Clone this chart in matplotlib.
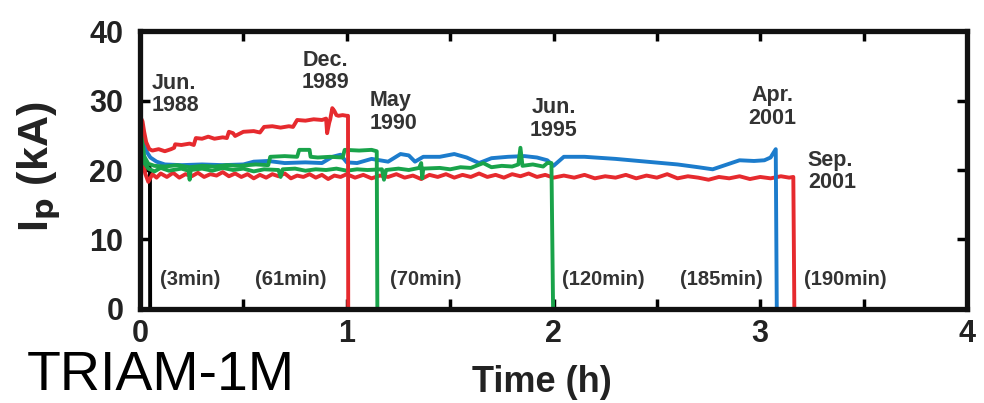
import matplotlib
matplotlib.use("Agg")
import matplotlib.pyplot as plt
from matplotlib.ticker import MultipleLocator

plt.rcParams['font.family'] = ['Liberation Sans', 'DejaVu Sans']

# Discharge traces, time in hours, plasma current in kA
t_jun1988 = [0.0, 0.003, 0.008, 0.015, 0.025, 0.035, 0.045, 0.048, 0.049]
i_jun1988 = [0.0, 26.5, 23.0, 21.0, 20.5, 20.0, 20.5, 20.0, 0.0]

t_dec1989 = [0.0, 0.004, 0.012, 0.02, 0.03, 0.045, 0.06, 0.09, 0.12, 0.15, 0.165, 0.17,
             0.2, 0.24, 0.26, 0.27, 0.3, 0.33, 0.36, 0.4, 0.42, 0.43, 0.45, 0.46, 0.5,
             0.55, 0.58, 0.6, 0.64, 0.68, 0.72, 0.74, 0.76, 0.8, 0.84, 0.88, 0.9, 0.905,
             0.915, 0.92, 0.93, 0.94, 0.95, 0.96, 0.98, 1.0, 1.006, 1.007]
i_dec1989 = [0.0, 27.5, 27.0, 25.5, 24.0, 23.0, 22.8, 23.0, 22.7, 23.0, 23.2, 23.7,
             23.6, 23.8, 23.6, 24.6, 24.5, 24.8, 24.5, 24.7, 24.6, 25.5, 25.3, 24.9, 25.5,
             25.6, 25.4, 26.2, 26.3, 26.1, 26.3, 26.2, 27.2, 27.1, 27.3, 27.2, 27.4, 25.3,
             26.8, 27.3, 28.9, 28.5, 27.9, 27.8, 27.9, 27.8, 27.8, 0.0]

t_may1990 = [0.0, 0.004, 0.01, 0.02, 0.04, 0.07, 0.12, 0.18, 0.24, 0.3, 0.36, 0.42,
             0.48, 0.56, 0.62, 0.63, 0.7, 0.76, 0.77, 0.82, 0.825, 0.86, 0.92, 0.98,
             0.99, 1.06, 1.12, 1.145, 1.148]
i_may1990 = [0.0, 26.0, 24.5, 22.0, 20.9, 20.6, 20.5, 20.7, 20.4, 20.6, 20.5, 20.7,
             20.6, 20.8, 20.7, 21.9, 22.0, 21.9, 22.9, 22.9, 21.9, 21.8, 21.9, 21.8,
             22.9, 22.8, 22.9, 22.7, 0.0]

t_jun1995 = [0.0, 0.004, 0.01, 0.02, 0.04, 0.07, 0.1, 0.14, 0.2, 0.235, 0.24, 0.245,
             0.3, 0.35, 0.4, 0.45, 0.5, 0.55, 0.6, 0.67, 0.68, 0.69, 0.75, 0.8, 0.85,
             0.9, 0.95, 1.0, 1.05, 1.1, 1.17, 1.18, 1.19, 1.25, 1.3, 1.35, 1.36, 1.365,
             1.37, 1.45, 1.5, 1.55, 1.6, 1.66, 1.7, 1.75, 1.8, 1.83, 1.84, 1.85, 1.9,
             1.95, 1.97, 1.99, 1.998]
i_jun1995 = [0.0, 25.0, 23.0, 21.0, 20.2, 19.8, 20.3, 19.9, 20.2, 19.9, 18.6, 20.0,
             20.2, 19.9, 20.3, 20.0, 20.2, 19.8, 20.1, 20.0, 19.0, 20.1, 20.2, 19.9, 20.1,
             20.0, 20.2, 19.9, 20.1, 20.0, 20.1, 18.6, 20.0, 20.2, 20.0, 20.3, 21.0, 18.8,
             20.2, 20.3, 20.1, 20.4, 20.3, 21.0, 20.4, 20.6, 20.5, 20.8, 23.2, 20.6, 20.8,
             20.5, 21.0, 21.0, 0.0]

t_apr2001 = [0.0, 0.003, 0.01, 0.02, 0.035, 0.05, 0.08, 0.12, 0.2, 0.3, 0.4, 0.5, 0.55,
             0.62, 0.7, 0.8, 0.88, 0.93, 0.97, 1.0, 1.05, 1.12, 1.2, 1.26, 1.3, 1.33,
             1.37, 1.45, 1.52, 1.58, 1.64, 1.7, 1.78, 1.86, 1.92, 1.97, 2.0, 2.05, 2.15,
             2.3, 2.45, 2.6, 2.7, 2.77, 2.84, 2.9, 2.97, 3.02, 3.05, 3.075, 3.08]
i_apr2001 = [0.0, 28.0, 26.0, 23.5, 22.5, 21.8, 21.2, 20.8, 20.7, 20.8, 20.7, 20.8, 21.2,
             21.3, 21.0, 21.1, 21.0, 21.9, 22.2, 21.1, 21.0, 21.6, 21.2, 22.3, 22.1, 21.2,
             21.9, 21.9, 22.3, 21.8, 21.0, 21.7, 21.9, 22.0, 21.8, 21.4, 20.6, 21.9, 21.9,
             21.6, 21.2, 20.8, 20.4, 20.1, 20.8, 21.4, 21.3, 21.4, 21.8, 23.0, 0.0]

t_sep2001 = [0.0, 0.003, 0.008, 0.015, 0.025, 0.04, 0.06, 0.08, 0.1, 0.13, 0.16, 0.19,
             0.22, 0.25, 0.28, 0.31, 0.34, 0.37, 0.4, 0.43, 0.46, 0.49, 0.52, 0.55, 0.58,
             0.61, 0.64, 0.67, 0.7, 0.73, 0.76, 0.79, 0.82, 0.85, 0.88, 0.91, 0.94, 0.97,
             1.0, 1.04, 1.08, 1.12, 1.16, 1.2, 1.24, 1.28, 1.32, 1.36, 1.4, 1.44, 1.48,
             1.52, 1.56, 1.6, 1.64, 1.68, 1.72, 1.76, 1.8, 1.84, 1.88, 1.92, 1.96, 2.0,
             2.05, 2.1, 2.15, 2.2, 2.25, 2.3, 2.35, 2.4, 2.45, 2.5, 2.55, 2.6, 2.65, 2.7,
             2.75, 2.8, 2.85, 2.9, 2.95, 3.0, 3.05, 3.1, 3.14, 3.16, 3.165]
i_sep2001 = [0.0, 26.0, 24.5, 21.5, 19.5, 18.3, 19.4, 18.9, 19.5, 19.0, 19.6, 18.9,
             19.4, 19.1, 19.6, 19.0, 19.4, 19.2, 19.7, 19.1, 19.5, 19.0, 19.4, 18.8, 19.3,
             18.9, 19.4, 19.1, 19.5, 18.8, 19.2, 19.0, 19.4, 18.9, 19.3, 18.7, 19.2, 19.0,
             19.4, 18.9, 19.3, 18.8, 19.2, 19.0, 19.4, 18.9, 19.2, 18.7, 19.3, 19.0, 19.4,
             18.9, 19.3, 19.0, 19.5, 19.0, 19.3, 18.9, 19.4, 19.1, 19.5, 19.0, 19.3, 18.9,
             19.2, 18.9, 19.3, 18.8, 19.1, 18.9, 19.3, 18.8, 19.2, 18.9, 19.4, 18.8, 19.1,
             18.9, 18.6, 19.0, 18.8, 19.1, 18.7, 19.0, 18.8, 19.1, 18.9, 19.0, 0.0]

# date labels: text, x, y(top), alignment
date_labels = [("Jun.\n1988", 0.058, 34.0, "left"),
               ("Dec.\n1989", 0.895, 37.3, "center"),
               ("May\n1990", 1.11, 31.5, "left"),
               ("Jun.\n1995", 2.0, 30.5, "center"),
               ("Apr.\n2001", 3.06, 32.2, "center"),
               ("Sep.\n2001", 3.23, 22.9, "left")]
dur_labels = [("(3min)", 0.097), ("(61min)", 0.556), ("(70min)", 1.21),
              ("(120min)", 2.04), ("(185min)", 2.61), ("(190min)", 3.21)]

red = "#e62a2e"
green = "#19a34a"
blue = "#1c7ccc"
txt = "#333333"

fig = plt.figure(figsize=(9.84, 4.03), dpi=100)
ax = fig.add_axes([0.1423, 0.2333, 0.8404, 0.6897])

lw = 2.8
ax.plot(t_jun1988, i_jun1988, color="black", lw=lw)
ax.plot(t_sep2001, i_sep2001, color=red, lw=lw)
ax.plot(t_apr2001, i_apr2001, color=blue, lw=lw)
ax.plot(t_jun1995, i_jun1995, color=green, lw=lw)
ax.plot(t_may1990, i_may1990, color=green, lw=lw)
ax.plot(t_dec1989, i_dec1989, color=red, lw=lw)

for s, x, y, ha in date_labels:
    ax.text(x, y, s, ha=ha, va="top", fontsize=15.5, fontweight="bold",
            color=txt, linespacing=1.1)
for s, x in dur_labels:
    ax.text(x, 4.3, s, ha="left", va="center", fontsize=14.5, fontweight="bold",
            color=txt)

ax.set_xlim(0, 4)
ax.set_ylim(0, 40)
ax.xaxis.set_major_locator(MultipleLocator(1))
ax.xaxis.set_minor_locator(MultipleLocator(0.5))
ax.yaxis.set_major_locator(MultipleLocator(10))
ax.tick_params(which="both", direction="in", top=True, right=True, length=7, width=2.5)
ax.tick_params(axis="both", labelsize=22, labelcolor="#222222")
ax.tick_params(axis="x", pad=7)
ax.tick_params(axis="y", pad=12)
for lab in ax.get_xticklabels() + ax.get_yticklabels():
    lab.set_fontweight("bold")
for sp in ax.spines.values():
    sp.set_linewidth(3.8)
    sp.set_color("#111111")

ax.set_ylabel(r"I$_\mathbf{p}$ (kA)", fontsize=31, fontweight="bold", color="#222222")
ax.yaxis.set_label_coords(-0.093, 0.51)

fig.text(0.551, 0.027, "Time (h)", ha="center", va="baseline", fontsize=26,
         fontweight="bold", color="#222222")
fig.text(0.027, 0.032, "TRIAM-1M", ha="left", va="baseline", fontsize=40,
         color="black")

fig.savefig("out.png", dpi=100)
